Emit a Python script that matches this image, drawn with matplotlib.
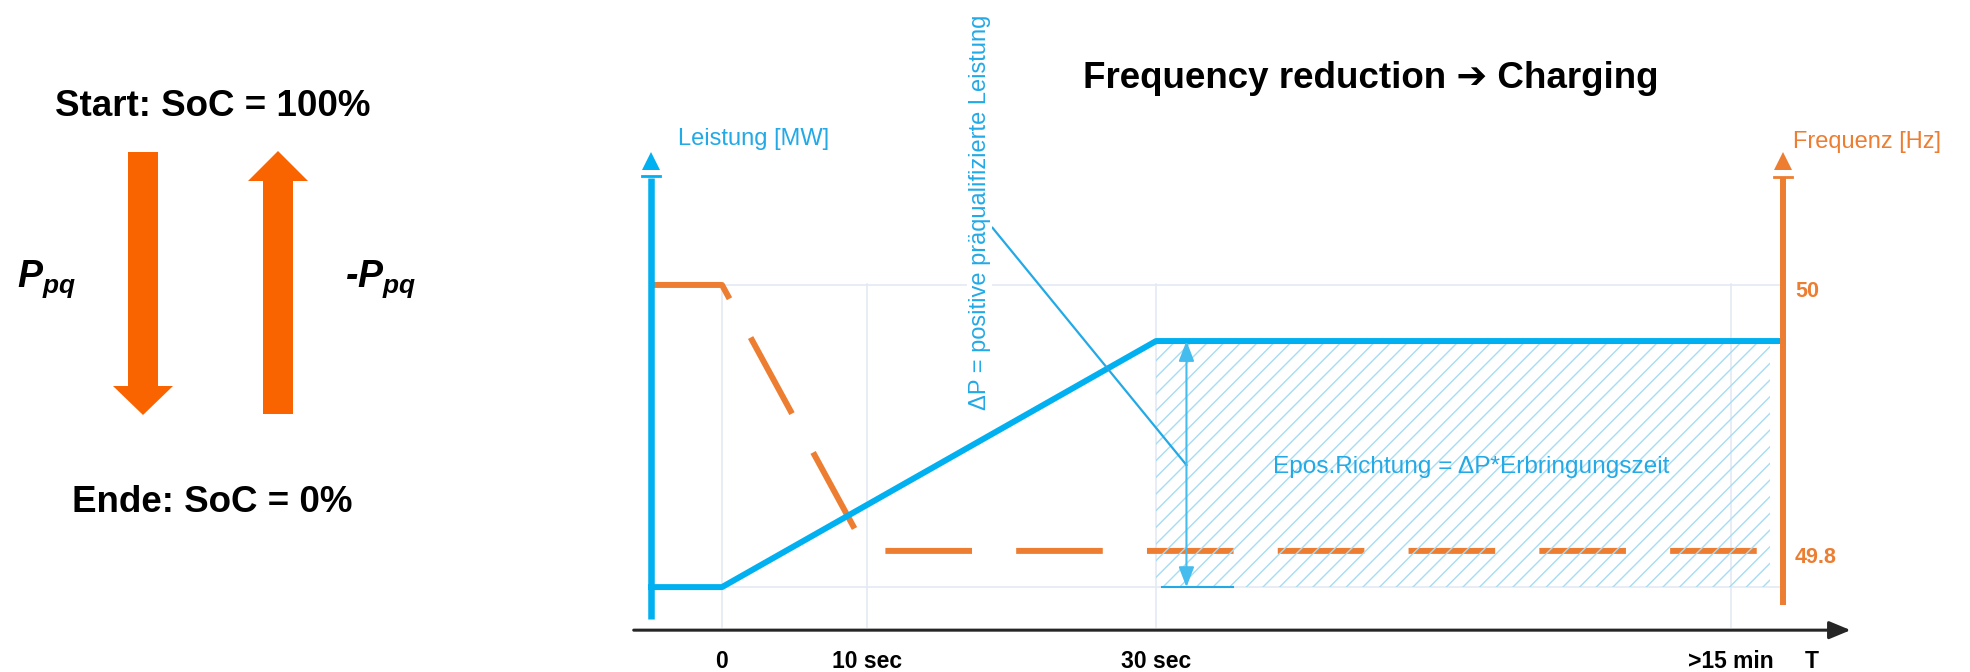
import matplotlib.pyplot as plt

plt.rcParams['font.family'] = ['Liberation Sans', 'DejaVu Sans']
plt.rcParams['mathtext.fontset'] = 'custom'
plt.rcParams['mathtext.it'] = 'Liberation Sans:italic:bold'
plt.rcParams['mathtext.rm'] = 'Liberation Sans:bold'
plt.rcParams['hatch.linewidth'] = 1.0

# --- data -------------------------------------------------------------
# power (relative to ΔP) over time in seconds
time_power = [-4.9, 0, 30, 73.3]
power = [0, 0, 1, 1]
# grid frequency in Hz
time_freq = [-4.9, 0, 10, 72.4]
freq = [50.0, 50.0, 49.8, 49.8]
# time axis labels (">15 min" is not to scale)
tick_pos = [0, 10, 30, 69.7]
tick_labels = ['0', '10 sec', '30 sec', '>15 min']
freq_ticks = [50, 49.8]
freq_tick_labels = ['50', '49.8']
# energy area E = ΔP * delivery time
hatch_t = [30, 72.4]

BLUE = '#00B0F0'
TXTBLUE = '#22A9E6'
ORANGE = '#ED7D31'
ARROW_ORANGE = '#FA6400'
GRID = '#E4EAF4'

fig = plt.figure(figsize=(19.7, 6.72), dpi=100)

# ---------- left panel: state of charge arrows ----------
axl = fig.add_axes([0, 0, 600 / 1970, 1])
axl.set_xlim(0, 600)
axl.set_ylim(672, 0)
axl.axis('off')
axl.arrow(143, 152, 0, 263, width=30, head_width=60, head_length=29,
          length_includes_head=True, color=ARROW_ORANGE, lw=0)
axl.arrow(278, 414, 0, -263, width=30, head_width=60, head_length=30,
          length_includes_head=True, color=ARROW_ORANGE, lw=0)
axl.text(213, 115.5, 'Start: SoC = 100%', ha='center', va='baseline',
         fontsize=26.5, fontweight='bold')
axl.text(212, 512, 'Ende: SoC = 0%', ha='center', va='baseline',
         fontsize=26.5, fontweight='bold')
axl.text(17, 287, r'$P_{pq}$', ha='left', va='baseline', fontsize=27)
axl.text(345, 287, r'-$P_{pq}$', ha='left', va='baseline', fontsize=27,
         fontweight='bold', style='italic')

fig.text(1371 / 1970, 1 - 88 / 672, 'Frequency reduction \u2794 Charging',
         ha='center', va='baseline', fontsize=26.5, fontweight='bold')

# ---------- right panel: power / frequency chart ----------
ax = fig.add_axes([620.7 / 1970, 1 - 640 / 672, 1238.6 / 1970, 500 / 672])
ax.set_xlim(-7, 78.6)
ax.set_ylim(-0.215, 1.817)
ax2 = ax.twinx()
ax2.set_ylim(49.733, 50.109)
ax.set_zorder(ax2.get_zorder() + 1)
ax.set_facecolor('none')
for a in (ax, ax2):
    for s in a.spines.values():
        s.set_visible(False)
    a.set_yticks([])

# grid (bottom layer)
for t in tick_pos:
    ax2.axvline(t, ymin=0.026, ymax=0.712, color=GRID, lw=1.2)
ax2.plot([-4.9, 73.3], [50, 50], color=GRID, lw=1.2)
ax2.plot([-4.9, 73.3], [0, 0], color=GRID, lw=1.2, transform=ax.transData)

# frequency
ax2.plot(time_freq, freq, color=ORANGE, lw=4.3, dashes=(14.5, 7.4))
for v, lab in zip(freq_ticks, freq_tick_labels):
    ax2.annotate(lab, xy=(73.3, v), xytext=(9, -4.5), textcoords='offset points',
                 ha='left', va='center', fontsize=15.5, fontweight='bold',
                 color=ORANGE)

# hatched energy area
ax.fill_between(hatch_t, 0, 1, facecolor='none', edgecolor='#A6DCF4',
                hatch='//', linewidth=0)

# power
ax.plot(time_power, power, color=BLUE, lw=4.3)

# ΔP dimension arrow
ax.annotate('', xy=(32.1, 1.0), xytext=(32.1, 0.0),
            arrowprops=dict(arrowstyle='<|-|>,head_length=0.61,head_width=0.235',
                            mutation_scale=20, color='#45BCEE', lw=1.5,
                            shrinkA=0, shrinkB=0))
ax.plot([30.4, 35.3], [0, 0], color=TXTBLUE, lw=1.5)
ax.plot([18.7, 32.1], [1.46, 0.496], color=TXTBLUE, lw=1.6)
ax.text(17.8, 0.72, '\u0394P = positive präqualifizierte Leistung', rotation=90,
        ha='center', va='bottom', fontsize=17, color=TXTBLUE,
        bbox=dict(fc='white', ec='none', pad=1))
ax.text(51.8, 0.49, 'Epos.Richtung = \u0394P*Erbringungszeit', ha='center',
        va='center', fontsize=17.6, color=TXTBLUE)

# left (power) axis with arrow
ax.plot([-4.9, -4.9], [-0.13, 1.663], color=BLUE, lw=4.7, solid_capstyle='butt')
ax.plot([-5.52, -4.28], [1.671, 1.671], color=BLUE, lw=2)
ax.plot([-4.9], [1.73], marker='^', ms=13, color=BLUE, mew=0)
ax.text(-3.04, 1.797, 'Leistung [MW]', ha='left', va='baseline', fontsize=17,
        color=TXTBLUE)

# right (frequency) axis with arrow
ax.plot([73.3, 73.3], [-0.073, 1.663], color=ORANGE, lw=4.3,
        solid_capstyle='butt', zorder=3)
ax.plot([72.68, 73.92], [1.667, 1.667], color=ORANGE, lw=2)
ax.plot([73.3], [1.73], marker='^', ms=13, color=ORANGE, mew=0)
ax.text(74.0, 1.785, 'Frequenz [Hz]', ha='left', va='baseline', fontsize=17,
        color=ORANGE)

# time axis
ax.annotate('', xy=(78.0, -0.175), xytext=(-6.1, -0.175),
            arrowprops=dict(arrowstyle='-|>,head_length=0.65,head_width=0.27',
                            mutation_scale=20, color='#262626', lw=2.2,
                            shrinkA=0, shrinkB=0))
ax.set_xticks(tick_pos, tick_labels, fontsize=16.5, fontweight='bold')
ax.tick_params(axis='x', length=0, pad=7)
ax.annotate('T', xy=(75.3, 0), xycoords=('data', 'axes fraction'),
            xytext=(0, -7), textcoords='offset points', ha='center', va='top',
            fontsize=16.5, fontweight='bold')

fig.savefig('out.png', dpi=100)
